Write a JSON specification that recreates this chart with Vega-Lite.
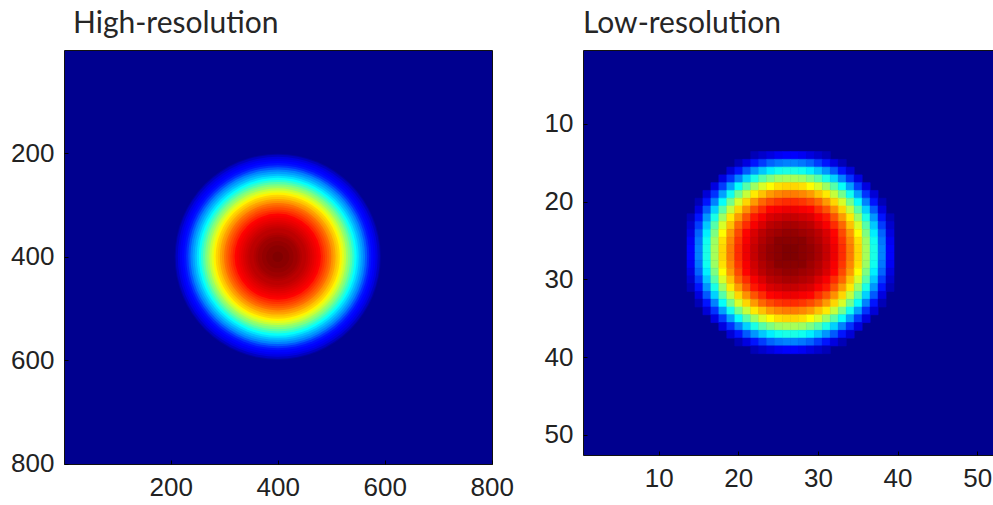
{
  "$schema": "https://vega.github.io/schema/vega-lite/v6.json",
  "padding": {"left": 10, "top": 8, "right": 0, "bottom": 0},
  "background": "white",
  "config": {
    "view": {"fill": "#00008f", "stroke": "#111111", "strokeWidth": 1},
    "axis": {"labelFont": "Liberation Sans", "labelFontSize": 26, "labelColor": "#222222", "grid": false, "domain": false, "tickColor": "#000000", "tickSize": -4, "tickWidth": 1, "labelPadding": 14, "labelFlush": false},
    "title": {"font": "Lato", "fontSize": 30, "fontWeight": "normal", "color": "#262626", "anchor": "start", "frame": "group", "offset": 11.5}
  },
  "bounds": "flush",
  "spacing": 91,
  "datasets": {
    "hi": [
      {"r":196,"v":0.02},{"r":194,"v":0.05},{"r":190,"v":0.08},{"r":186,"v":0.1},{"r":182,"v":0.115},{"r":178,"v":0.13},{"r":174,"v":0.16},{"r":170,"v":0.2},{"r":166,"v":0.24},{"r":162,"v":0.27},{"r":158,"v":0.3},{"r":154,"v":0.335},{"r":150,"v":0.37},{"r":146,"v":0.41},{"r":142,"v":0.45},{"r":138,"v":0.49},{"r":134,"v":0.52},{"r":130,"v":0.56},{"r":126,"v":0.59},{"r":122,"v":0.63},{"r":118,"v":0.66},{"r":114,"v":0.68},{"r":110,"v":0.71},{"r":106,"v":0.73},{"r":102,"v":0.76},{"r":98,"v":0.78},{"r":94,"v":0.8},{"r":90,"v":0.82},{"r":86,"v":0.84},{"r":82,"v":0.87},{"r":78,"v":0.88},{"r":74,"v":0.89},{"r":70,"v":0.9},{"r":66,"v":0.91},{"r":62,"v":0.92},{"r":58,"v":0.93},{"r":54,"v":0.94},{"r":50,"v":0.94},{"r":46,"v":0.95},{"r":42,"v":0.96},{"r":38,"v":0.97},{"r":34,"v":0.97},{"r":30,"v":0.98},{"r":26,"v":0.98},{"r":22,"v":0.99},{"r":18,"v":0.99},{"r":14,"v":0.99},{"r":10,"v":1},{"r":6,"v":1},{"r":2,"v":1}
    ],
    "lo": [
      {"x":21.5,"y":13.5,"v":0.04},{"x":22.5,"y":13.5,"v":0.06},{"x":23.5,"y":13.5,"v":0.08},{"x":24.5,"y":13.5,"v":0.1},{"x":25.5,"y":13.5,"v":0.11},{"x":26.5,"y":13.5,"v":0.11},{"x":27.5,"y":13.5,"v":0.1},{"x":28.5,"y":13.5,"v":0.08},{"x":29.5,"y":13.5,"v":0.06},{"x":30.5,"y":13.5,"v":0.04},
      {"x":19.5,"y":14.5,"v":0.04},{"x":20.5,"y":14.5,"v":0.08},{"x":21.5,"y":14.5,"v":0.13},{"x":22.5,"y":14.5,"v":0.17},{"x":23.5,"y":14.5,"v":0.21},{"x":24.5,"y":14.5,"v":0.23},{"x":25.5,"y":14.5,"v":0.24},{"x":26.5,"y":14.5,"v":0.24},{"x":27.5,"y":14.5,"v":0.23},{"x":28.5,"y":14.5,"v":0.21},{"x":29.5,"y":14.5,"v":0.17},{"x":30.5,"y":14.5,"v":0.13},{"x":31.5,"y":14.5,"v":0.08},{"x":32.5,"y":14.5,"v":0.04},
      {"x":18.5,"y":15.5,"v":0.07},{"x":19.5,"y":15.5,"v":0.13},{"x":20.5,"y":15.5,"v":0.2},{"x":21.5,"y":15.5,"v":0.26},{"x":22.5,"y":15.5,"v":0.31},{"x":23.5,"y":15.5,"v":0.35},{"x":24.5,"y":15.5,"v":0.38},{"x":25.5,"y":15.5,"v":0.39},{"x":26.5,"y":15.5,"v":0.39},{"x":27.5,"y":15.5,"v":0.38},{"x":28.5,"y":15.5,"v":0.35},{"x":29.5,"y":15.5,"v":0.31},{"x":30.5,"y":15.5,"v":0.26},{"x":31.5,"y":15.5,"v":0.2},{"x":32.5,"y":15.5,"v":0.13},{"x":33.5,"y":15.5,"v":0.07},
      {"x":17.5,"y":16.5,"v":0.08},{"x":18.5,"y":16.5,"v":0.16},{"x":19.5,"y":16.5,"v":0.24},{"x":20.5,"y":16.5,"v":0.32},{"x":21.5,"y":16.5,"v":0.39},{"x":22.5,"y":16.5,"v":0.45},{"x":23.5,"y":16.5,"v":0.49},{"x":24.5,"y":16.5,"v":0.52},{"x":25.5,"y":16.5,"v":0.53},{"x":26.5,"y":16.5,"v":0.53},{"x":27.5,"y":16.5,"v":0.52},{"x":28.5,"y":16.5,"v":0.49},{"x":29.5,"y":16.5,"v":0.45},{"x":30.5,"y":16.5,"v":0.39},{"x":31.5,"y":16.5,"v":0.32},{"x":32.5,"y":16.5,"v":0.24},{"x":33.5,"y":16.5,"v":0.16},{"x":34.5,"y":16.5,"v":0.08},
      {"x":16.5,"y":17.5,"v":0.08},{"x":17.5,"y":17.5,"v":0.17},{"x":18.5,"y":17.5,"v":0.27},{"x":19.5,"y":17.5,"v":0.37},{"x":20.5,"y":17.5,"v":0.45},{"x":21.5,"y":17.5,"v":0.52},{"x":22.5,"y":17.5,"v":0.58},{"x":23.5,"y":17.5,"v":0.62},{"x":24.5,"y":17.5,"v":0.65},{"x":25.5,"y":17.5,"v":0.66},{"x":26.5,"y":17.5,"v":0.66},{"x":27.5,"y":17.5,"v":0.65},{"x":28.5,"y":17.5,"v":0.62},{"x":29.5,"y":17.5,"v":0.58},{"x":30.5,"y":17.5,"v":0.52},{"x":31.5,"y":17.5,"v":0.45},{"x":32.5,"y":17.5,"v":0.37},{"x":33.5,"y":17.5,"v":0.27},{"x":34.5,"y":17.5,"v":0.17},{"x":35.5,"y":17.5,"v":0.08},
      {"x":15.5,"y":18.5,"v":0.07},{"x":16.5,"y":18.5,"v":0.16},{"x":17.5,"y":18.5,"v":0.27},{"x":18.5,"y":18.5,"v":0.38},{"x":19.5,"y":18.5,"v":0.48},{"x":20.5,"y":18.5,"v":0.56},{"x":21.5,"y":18.5,"v":0.64},{"x":22.5,"y":18.5,"v":0.68},{"x":23.5,"y":18.5,"v":0.72},{"x":24.5,"y":18.5,"v":0.74},{"x":25.5,"y":18.5,"v":0.75},{"x":26.5,"y":18.5,"v":0.75},{"x":27.5,"y":18.5,"v":0.74},{"x":28.5,"y":18.5,"v":0.72},{"x":29.5,"y":18.5,"v":0.68},{"x":30.5,"y":18.5,"v":0.64},{"x":31.5,"y":18.5,"v":0.56},{"x":32.5,"y":18.5,"v":0.48},{"x":33.5,"y":18.5,"v":0.38},{"x":34.5,"y":18.5,"v":0.27},{"x":35.5,"y":18.5,"v":0.16},{"x":36.5,"y":18.5,"v":0.07},
      {"x":14.5,"y":19.5,"v":0.04},{"x":15.5,"y":19.5,"v":0.13},{"x":16.5,"y":19.5,"v":0.24},{"x":17.5,"y":19.5,"v":0.37},{"x":18.5,"y":19.5,"v":0.48},{"x":19.5,"y":19.5,"v":0.58},{"x":20.5,"y":19.5,"v":0.66},{"x":21.5,"y":19.5,"v":0.72},{"x":22.5,"y":19.5,"v":0.77},{"x":23.5,"y":19.5,"v":0.8},{"x":24.5,"y":19.5,"v":0.82},{"x":25.5,"y":19.5,"v":0.83},{"x":26.5,"y":19.5,"v":0.83},{"x":27.5,"y":19.5,"v":0.82},{"x":28.5,"y":19.5,"v":0.8},{"x":29.5,"y":19.5,"v":0.77},{"x":30.5,"y":19.5,"v":0.72},{"x":31.5,"y":19.5,"v":0.66},{"x":32.5,"y":19.5,"v":0.58},{"x":33.5,"y":19.5,"v":0.48},{"x":34.5,"y":19.5,"v":0.37},{"x":35.5,"y":19.5,"v":0.24},{"x":36.5,"y":19.5,"v":0.13},{"x":37.5,"y":19.5,"v":0.04},
      {"x":14.5,"y":20.5,"v":0.08},{"x":15.5,"y":20.5,"v":0.2},{"x":16.5,"y":20.5,"v":0.32},{"x":17.5,"y":20.5,"v":0.45},{"x":18.5,"y":20.5,"v":0.56},{"x":19.5,"y":20.5,"v":0.66},{"x":20.5,"y":20.5,"v":0.73},{"x":21.5,"y":20.5,"v":0.79},{"x":22.5,"y":20.5,"v":0.83},{"x":23.5,"y":20.5,"v":0.87},{"x":24.5,"y":20.5,"v":0.88},{"x":25.5,"y":20.5,"v":0.89},{"x":26.5,"y":20.5,"v":0.89},{"x":27.5,"y":20.5,"v":0.88},{"x":28.5,"y":20.5,"v":0.87},{"x":29.5,"y":20.5,"v":0.83},{"x":30.5,"y":20.5,"v":0.79},{"x":31.5,"y":20.5,"v":0.73},{"x":32.5,"y":20.5,"v":0.66},{"x":33.5,"y":20.5,"v":0.56},{"x":34.5,"y":20.5,"v":0.45},{"x":35.5,"y":20.5,"v":0.32},{"x":36.5,"y":20.5,"v":0.2},{"x":37.5,"y":20.5,"v":0.08},
      {"x":13.5,"y":21.5,"v":0.04},{"x":14.5,"y":21.5,"v":0.13},{"x":15.5,"y":21.5,"v":0.26},{"x":16.5,"y":21.5,"v":0.39},{"x":17.5,"y":21.5,"v":0.52},{"x":18.5,"y":21.5,"v":0.64},{"x":19.5,"y":21.5,"v":0.72},{"x":20.5,"y":21.5,"v":0.79},{"x":21.5,"y":21.5,"v":0.85},{"x":22.5,"y":21.5,"v":0.88},{"x":23.5,"y":21.5,"v":0.91},{"x":24.5,"y":21.5,"v":0.92},{"x":25.5,"y":21.5,"v":0.93},{"x":26.5,"y":21.5,"v":0.93},{"x":27.5,"y":21.5,"v":0.92},{"x":28.5,"y":21.5,"v":0.91},{"x":29.5,"y":21.5,"v":0.88},{"x":30.5,"y":21.5,"v":0.85},{"x":31.5,"y":21.5,"v":0.79},{"x":32.5,"y":21.5,"v":0.72},{"x":33.5,"y":21.5,"v":0.64},{"x":34.5,"y":21.5,"v":0.52},{"x":35.5,"y":21.5,"v":0.39},{"x":36.5,"y":21.5,"v":0.26},{"x":37.5,"y":21.5,"v":0.13},{"x":38.5,"y":21.5,"v":0.04},
      {"x":13.5,"y":22.5,"v":0.06},{"x":14.5,"y":22.5,"v":0.17},{"x":15.5,"y":22.5,"v":0.31},{"x":16.5,"y":22.5,"v":0.45},{"x":17.5,"y":22.5,"v":0.58},{"x":18.5,"y":22.5,"v":0.68},{"x":19.5,"y":22.5,"v":0.77},{"x":20.5,"y":22.5,"v":0.83},{"x":21.5,"y":22.5,"v":0.88},{"x":22.5,"y":22.5,"v":0.91},{"x":23.5,"y":22.5,"v":0.94},{"x":24.5,"y":22.5,"v":0.95},{"x":25.5,"y":22.5,"v":0.96},{"x":26.5,"y":22.5,"v":0.96},{"x":27.5,"y":22.5,"v":0.95},{"x":28.5,"y":22.5,"v":0.94},{"x":29.5,"y":22.5,"v":0.91},{"x":30.5,"y":22.5,"v":0.88},{"x":31.5,"y":22.5,"v":0.83},{"x":32.5,"y":22.5,"v":0.77},{"x":33.5,"y":22.5,"v":0.68},{"x":34.5,"y":22.5,"v":0.58},{"x":35.5,"y":22.5,"v":0.45},{"x":36.5,"y":22.5,"v":0.31},{"x":37.5,"y":22.5,"v":0.17},{"x":38.5,"y":22.5,"v":0.06},
      {"x":13.5,"y":23.5,"v":0.08},{"x":14.5,"y":23.5,"v":0.21},{"x":15.5,"y":23.5,"v":0.35},{"x":16.5,"y":23.5,"v":0.49},{"x":17.5,"y":23.5,"v":0.62},{"x":18.5,"y":23.5,"v":0.72},{"x":19.5,"y":23.5,"v":0.8},{"x":20.5,"y":23.5,"v":0.87},{"x":21.5,"y":23.5,"v":0.91},{"x":22.5,"y":23.5,"v":0.94},{"x":23.5,"y":23.5,"v":0.96},{"x":24.5,"y":23.5,"v":0.97},{"x":25.5,"y":23.5,"v":0.98},{"x":26.5,"y":23.5,"v":0.98},{"x":27.5,"y":23.5,"v":0.97},{"x":28.5,"y":23.5,"v":0.96},{"x":29.5,"y":23.5,"v":0.94},{"x":30.5,"y":23.5,"v":0.91},{"x":31.5,"y":23.5,"v":0.87},{"x":32.5,"y":23.5,"v":0.8},{"x":33.5,"y":23.5,"v":0.72},{"x":34.5,"y":23.5,"v":0.62},{"x":35.5,"y":23.5,"v":0.49},{"x":36.5,"y":23.5,"v":0.35},{"x":37.5,"y":23.5,"v":0.21},{"x":38.5,"y":23.5,"v":0.08},
      {"x":13.5,"y":24.5,"v":0.1},{"x":14.5,"y":24.5,"v":0.23},{"x":15.5,"y":24.5,"v":0.38},{"x":16.5,"y":24.5,"v":0.52},{"x":17.5,"y":24.5,"v":0.65},{"x":18.5,"y":24.5,"v":0.74},{"x":19.5,"y":24.5,"v":0.82},{"x":20.5,"y":24.5,"v":0.88},{"x":21.5,"y":24.5,"v":0.92},{"x":22.5,"y":24.5,"v":0.95},{"x":23.5,"y":24.5,"v":0.97},{"x":24.5,"y":24.5,"v":0.99},{"x":25.5,"y":24.5,"v":0.99},{"x":26.5,"y":24.5,"v":0.99},{"x":27.5,"y":24.5,"v":0.99},{"x":28.5,"y":24.5,"v":0.97},{"x":29.5,"y":24.5,"v":0.95},{"x":30.5,"y":24.5,"v":0.92},{"x":31.5,"y":24.5,"v":0.88},{"x":32.5,"y":24.5,"v":0.82},{"x":33.5,"y":24.5,"v":0.74},{"x":34.5,"y":24.5,"v":0.65},{"x":35.5,"y":24.5,"v":0.52},{"x":36.5,"y":24.5,"v":0.38},{"x":37.5,"y":24.5,"v":0.23},{"x":38.5,"y":24.5,"v":0.1},
      {"x":13.5,"y":25.5,"v":0.11},{"x":14.5,"y":25.5,"v":0.24},{"x":15.5,"y":25.5,"v":0.39},{"x":16.5,"y":25.5,"v":0.53},{"x":17.5,"y":25.5,"v":0.66},{"x":18.5,"y":25.5,"v":0.75},{"x":19.5,"y":25.5,"v":0.83},{"x":20.5,"y":25.5,"v":0.89},{"x":21.5,"y":25.5,"v":0.93},{"x":22.5,"y":25.5,"v":0.96},{"x":23.5,"y":25.5,"v":0.98},{"x":24.5,"y":25.5,"v":0.99},{"x":25.5,"y":25.5,"v":1},{"x":26.5,"y":25.5,"v":1},{"x":27.5,"y":25.5,"v":0.99},{"x":28.5,"y":25.5,"v":0.98},{"x":29.5,"y":25.5,"v":0.96},{"x":30.5,"y":25.5,"v":0.93},{"x":31.5,"y":25.5,"v":0.89},{"x":32.5,"y":25.5,"v":0.83},{"x":33.5,"y":25.5,"v":0.75},{"x":34.5,"y":25.5,"v":0.66},{"x":35.5,"y":25.5,"v":0.53},{"x":36.5,"y":25.5,"v":0.39},{"x":37.5,"y":25.5,"v":0.24},{"x":38.5,"y":25.5,"v":0.11},
      {"x":13.5,"y":26.5,"v":0.11},{"x":14.5,"y":26.5,"v":0.24},{"x":15.5,"y":26.5,"v":0.39},{"x":16.5,"y":26.5,"v":0.53},{"x":17.5,"y":26.5,"v":0.66},{"x":18.5,"y":26.5,"v":0.75},{"x":19.5,"y":26.5,"v":0.83},{"x":20.5,"y":26.5,"v":0.89},{"x":21.5,"y":26.5,"v":0.93},{"x":22.5,"y":26.5,"v":0.96},{"x":23.5,"y":26.5,"v":0.98},{"x":24.5,"y":26.5,"v":0.99},{"x":25.5,"y":26.5,"v":1},{"x":26.5,"y":26.5,"v":1},{"x":27.5,"y":26.5,"v":0.99},{"x":28.5,"y":26.5,"v":0.98},{"x":29.5,"y":26.5,"v":0.96},{"x":30.5,"y":26.5,"v":0.93},{"x":31.5,"y":26.5,"v":0.89},{"x":32.5,"y":26.5,"v":0.83},{"x":33.5,"y":26.5,"v":0.75},{"x":34.5,"y":26.5,"v":0.66},{"x":35.5,"y":26.5,"v":0.53},{"x":36.5,"y":26.5,"v":0.39},{"x":37.5,"y":26.5,"v":0.24},{"x":38.5,"y":26.5,"v":0.11},
      {"x":13.5,"y":27.5,"v":0.1},{"x":14.5,"y":27.5,"v":0.23},{"x":15.5,"y":27.5,"v":0.38},{"x":16.5,"y":27.5,"v":0.52},{"x":17.5,"y":27.5,"v":0.65},{"x":18.5,"y":27.5,"v":0.74},{"x":19.5,"y":27.5,"v":0.82},{"x":20.5,"y":27.5,"v":0.88},{"x":21.5,"y":27.5,"v":0.92},{"x":22.5,"y":27.5,"v":0.95},{"x":23.5,"y":27.5,"v":0.97},{"x":24.5,"y":27.5,"v":0.99},{"x":25.5,"y":27.5,"v":0.99},{"x":26.5,"y":27.5,"v":0.99},{"x":27.5,"y":27.5,"v":0.99},{"x":28.5,"y":27.5,"v":0.97},{"x":29.5,"y":27.5,"v":0.95},{"x":30.5,"y":27.5,"v":0.92},{"x":31.5,"y":27.5,"v":0.88},{"x":32.5,"y":27.5,"v":0.82},{"x":33.5,"y":27.5,"v":0.74},{"x":34.5,"y":27.5,"v":0.65},{"x":35.5,"y":27.5,"v":0.52},{"x":36.5,"y":27.5,"v":0.38},{"x":37.5,"y":27.5,"v":0.23},{"x":38.5,"y":27.5,"v":0.1},
      {"x":13.5,"y":28.5,"v":0.08},{"x":14.5,"y":28.5,"v":0.21},{"x":15.5,"y":28.5,"v":0.35},{"x":16.5,"y":28.5,"v":0.49},{"x":17.5,"y":28.5,"v":0.62},{"x":18.5,"y":28.5,"v":0.72},{"x":19.5,"y":28.5,"v":0.8},{"x":20.5,"y":28.5,"v":0.87},{"x":21.5,"y":28.5,"v":0.91},{"x":22.5,"y":28.5,"v":0.94},{"x":23.5,"y":28.5,"v":0.96},{"x":24.5,"y":28.5,"v":0.97},{"x":25.5,"y":28.5,"v":0.98},{"x":26.5,"y":28.5,"v":0.98},{"x":27.5,"y":28.5,"v":0.97},{"x":28.5,"y":28.5,"v":0.96},{"x":29.5,"y":28.5,"v":0.94},{"x":30.5,"y":28.5,"v":0.91},{"x":31.5,"y":28.5,"v":0.87},{"x":32.5,"y":28.5,"v":0.8},{"x":33.5,"y":28.5,"v":0.72},{"x":34.5,"y":28.5,"v":0.62},{"x":35.5,"y":28.5,"v":0.49},{"x":36.5,"y":28.5,"v":0.35},{"x":37.5,"y":28.5,"v":0.21},{"x":38.5,"y":28.5,"v":0.08},
      {"x":13.5,"y":29.5,"v":0.06},{"x":14.5,"y":29.5,"v":0.17},{"x":15.5,"y":29.5,"v":0.31},{"x":16.5,"y":29.5,"v":0.45},{"x":17.5,"y":29.5,"v":0.58},{"x":18.5,"y":29.5,"v":0.68},{"x":19.5,"y":29.5,"v":0.77},{"x":20.5,"y":29.5,"v":0.83},{"x":21.5,"y":29.5,"v":0.88},{"x":22.5,"y":29.5,"v":0.91},{"x":23.5,"y":29.5,"v":0.94},{"x":24.5,"y":29.5,"v":0.95},{"x":25.5,"y":29.5,"v":0.96},{"x":26.5,"y":29.5,"v":0.96},{"x":27.5,"y":29.5,"v":0.95},{"x":28.5,"y":29.5,"v":0.94},{"x":29.5,"y":29.5,"v":0.91},{"x":30.5,"y":29.5,"v":0.88},{"x":31.5,"y":29.5,"v":0.83},{"x":32.5,"y":29.5,"v":0.77},{"x":33.5,"y":29.5,"v":0.68},{"x":34.5,"y":29.5,"v":0.58},{"x":35.5,"y":29.5,"v":0.45},{"x":36.5,"y":29.5,"v":0.31},{"x":37.5,"y":29.5,"v":0.17},{"x":38.5,"y":29.5,"v":0.06},
      {"x":13.5,"y":30.5,"v":0.04},{"x":14.5,"y":30.5,"v":0.13},{"x":15.5,"y":30.5,"v":0.26},{"x":16.5,"y":30.5,"v":0.39},{"x":17.5,"y":30.5,"v":0.52},{"x":18.5,"y":30.5,"v":0.64},{"x":19.5,"y":30.5,"v":0.72},{"x":20.5,"y":30.5,"v":0.79},{"x":21.5,"y":30.5,"v":0.85},{"x":22.5,"y":30.5,"v":0.88},{"x":23.5,"y":30.5,"v":0.91},{"x":24.5,"y":30.5,"v":0.92},{"x":25.5,"y":30.5,"v":0.93},{"x":26.5,"y":30.5,"v":0.93},{"x":27.5,"y":30.5,"v":0.92},{"x":28.5,"y":30.5,"v":0.91},{"x":29.5,"y":30.5,"v":0.88},{"x":30.5,"y":30.5,"v":0.85},{"x":31.5,"y":30.5,"v":0.79},{"x":32.5,"y":30.5,"v":0.72},{"x":33.5,"y":30.5,"v":0.64},{"x":34.5,"y":30.5,"v":0.52},{"x":35.5,"y":30.5,"v":0.39},{"x":36.5,"y":30.5,"v":0.26},{"x":37.5,"y":30.5,"v":0.13},{"x":38.5,"y":30.5,"v":0.04},
      {"x":14.5,"y":31.5,"v":0.08},{"x":15.5,"y":31.5,"v":0.2},{"x":16.5,"y":31.5,"v":0.32},{"x":17.5,"y":31.5,"v":0.45},{"x":18.5,"y":31.5,"v":0.56},{"x":19.5,"y":31.5,"v":0.66},{"x":20.5,"y":31.5,"v":0.73},{"x":21.5,"y":31.5,"v":0.79},{"x":22.5,"y":31.5,"v":0.83},{"x":23.5,"y":31.5,"v":0.87},{"x":24.5,"y":31.5,"v":0.88},{"x":25.5,"y":31.5,"v":0.89},{"x":26.5,"y":31.5,"v":0.89},{"x":27.5,"y":31.5,"v":0.88},{"x":28.5,"y":31.5,"v":0.87},{"x":29.5,"y":31.5,"v":0.83},{"x":30.5,"y":31.5,"v":0.79},{"x":31.5,"y":31.5,"v":0.73},{"x":32.5,"y":31.5,"v":0.66},{"x":33.5,"y":31.5,"v":0.56},{"x":34.5,"y":31.5,"v":0.45},{"x":35.5,"y":31.5,"v":0.32},{"x":36.5,"y":31.5,"v":0.2},{"x":37.5,"y":31.5,"v":0.08},
      {"x":14.5,"y":32.5,"v":0.04},{"x":15.5,"y":32.5,"v":0.13},{"x":16.5,"y":32.5,"v":0.24},{"x":17.5,"y":32.5,"v":0.37},{"x":18.5,"y":32.5,"v":0.48},{"x":19.5,"y":32.5,"v":0.58},{"x":20.5,"y":32.5,"v":0.66},{"x":21.5,"y":32.5,"v":0.72},{"x":22.5,"y":32.5,"v":0.77},{"x":23.5,"y":32.5,"v":0.8},{"x":24.5,"y":32.5,"v":0.82},{"x":25.5,"y":32.5,"v":0.83},{"x":26.5,"y":32.5,"v":0.83},{"x":27.5,"y":32.5,"v":0.82},{"x":28.5,"y":32.5,"v":0.8},{"x":29.5,"y":32.5,"v":0.77},{"x":30.5,"y":32.5,"v":0.72},{"x":31.5,"y":32.5,"v":0.66},{"x":32.5,"y":32.5,"v":0.58},{"x":33.5,"y":32.5,"v":0.48},{"x":34.5,"y":32.5,"v":0.37},{"x":35.5,"y":32.5,"v":0.24},{"x":36.5,"y":32.5,"v":0.13},{"x":37.5,"y":32.5,"v":0.04},
      {"x":15.5,"y":33.5,"v":0.07},{"x":16.5,"y":33.5,"v":0.16},{"x":17.5,"y":33.5,"v":0.27},{"x":18.5,"y":33.5,"v":0.38},{"x":19.5,"y":33.5,"v":0.48},{"x":20.5,"y":33.5,"v":0.56},{"x":21.5,"y":33.5,"v":0.64},{"x":22.5,"y":33.5,"v":0.68},{"x":23.5,"y":33.5,"v":0.72},{"x":24.5,"y":33.5,"v":0.74},{"x":25.5,"y":33.5,"v":0.75},{"x":26.5,"y":33.5,"v":0.75},{"x":27.5,"y":33.5,"v":0.74},{"x":28.5,"y":33.5,"v":0.72},{"x":29.5,"y":33.5,"v":0.68},{"x":30.5,"y":33.5,"v":0.64},{"x":31.5,"y":33.5,"v":0.56},{"x":32.5,"y":33.5,"v":0.48},{"x":33.5,"y":33.5,"v":0.38},{"x":34.5,"y":33.5,"v":0.27},{"x":35.5,"y":33.5,"v":0.16},{"x":36.5,"y":33.5,"v":0.07},
      {"x":16.5,"y":34.5,"v":0.08},{"x":17.5,"y":34.5,"v":0.17},{"x":18.5,"y":34.5,"v":0.27},{"x":19.5,"y":34.5,"v":0.37},{"x":20.5,"y":34.5,"v":0.45},{"x":21.5,"y":34.5,"v":0.52},{"x":22.5,"y":34.5,"v":0.58},{"x":23.5,"y":34.5,"v":0.62},{"x":24.5,"y":34.5,"v":0.65},{"x":25.5,"y":34.5,"v":0.66},{"x":26.5,"y":34.5,"v":0.66},{"x":27.5,"y":34.5,"v":0.65},{"x":28.5,"y":34.5,"v":0.62},{"x":29.5,"y":34.5,"v":0.58},{"x":30.5,"y":34.5,"v":0.52},{"x":31.5,"y":34.5,"v":0.45},{"x":32.5,"y":34.5,"v":0.37},{"x":33.5,"y":34.5,"v":0.27},{"x":34.5,"y":34.5,"v":0.17},{"x":35.5,"y":34.5,"v":0.08},
      {"x":17.5,"y":35.5,"v":0.08},{"x":18.5,"y":35.5,"v":0.16},{"x":19.5,"y":35.5,"v":0.24},{"x":20.5,"y":35.5,"v":0.32},{"x":21.5,"y":35.5,"v":0.39},{"x":22.5,"y":35.5,"v":0.45},{"x":23.5,"y":35.5,"v":0.49},{"x":24.5,"y":35.5,"v":0.52},{"x":25.5,"y":35.5,"v":0.53},{"x":26.5,"y":35.5,"v":0.53},{"x":27.5,"y":35.5,"v":0.52},{"x":28.5,"y":35.5,"v":0.49},{"x":29.5,"y":35.5,"v":0.45},{"x":30.5,"y":35.5,"v":0.39},{"x":31.5,"y":35.5,"v":0.32},{"x":32.5,"y":35.5,"v":0.24},{"x":33.5,"y":35.5,"v":0.16},{"x":34.5,"y":35.5,"v":0.08},
      {"x":18.5,"y":36.5,"v":0.07},{"x":19.5,"y":36.5,"v":0.13},{"x":20.5,"y":36.5,"v":0.2},{"x":21.5,"y":36.5,"v":0.26},{"x":22.5,"y":36.5,"v":0.31},{"x":23.5,"y":36.5,"v":0.35},{"x":24.5,"y":36.5,"v":0.38},{"x":25.5,"y":36.5,"v":0.39},{"x":26.5,"y":36.5,"v":0.39},{"x":27.5,"y":36.5,"v":0.38},{"x":28.5,"y":36.5,"v":0.35},{"x":29.5,"y":36.5,"v":0.31},{"x":30.5,"y":36.5,"v":0.26},{"x":31.5,"y":36.5,"v":0.2},{"x":32.5,"y":36.5,"v":0.13},{"x":33.5,"y":36.5,"v":0.07},
      {"x":19.5,"y":37.5,"v":0.04},{"x":20.5,"y":37.5,"v":0.08},{"x":21.5,"y":37.5,"v":0.13},{"x":22.5,"y":37.5,"v":0.17},{"x":23.5,"y":37.5,"v":0.21},{"x":24.5,"y":37.5,"v":0.23},{"x":25.5,"y":37.5,"v":0.24},{"x":26.5,"y":37.5,"v":0.24},{"x":27.5,"y":37.5,"v":0.23},{"x":28.5,"y":37.5,"v":0.21},{"x":29.5,"y":37.5,"v":0.17},{"x":30.5,"y":37.5,"v":0.13},{"x":31.5,"y":37.5,"v":0.08},{"x":32.5,"y":37.5,"v":0.04},
      {"x":21.5,"y":38.5,"v":0.04},{"x":22.5,"y":38.5,"v":0.06},{"x":23.5,"y":38.5,"v":0.08},{"x":24.5,"y":38.5,"v":0.1},{"x":25.5,"y":38.5,"v":0.11},{"x":26.5,"y":38.5,"v":0.11},{"x":27.5,"y":38.5,"v":0.1},{"x":28.5,"y":38.5,"v":0.08},{"x":29.5,"y":38.5,"v":0.06},{"x":30.5,"y":38.5,"v":0.04}
    ]
  },
  "hconcat": [
    {
      "title": {"text": "High-resolution", "dx": 9},
      "width": 428,
      "height": 414,
      "data": {"name": "hi"},
      "mark": {"type": "circle", "opacity": 1, "strokeWidth": 0},
      "encoding": {
        "x": {"datum": 400, "type": "quantitative", "scale": {"domain": [0.5, 800.5], "nice": false, "zero": false}, "axis": {"values": [200, 400, 600, 800], "title": null}},
        "y": {"datum": 400, "type": "quantitative", "scale": {"domain": [0.5, 800.5], "reverse": true, "nice": false, "zero": false}, "axis": {"values": [200, 400, 600, 800], "title": null}},
        "size": {"field": "r", "type": "quantitative", "scale": {"type": "pow", "exponent": 2, "domain": [0, 200], "range": [0, 44268]}, "legend": null},
        "color": {"field": "v", "type": "quantitative", "scale": {"domain": [0, 0.111, 0.365, 0.619, 0.873, 1], "range": ["#00008f", "#0000ff", "#00ffff", "#ffff00", "#ff0000", "#800000"], "interpolate": "rgb"}, "legend": null},
        "order": {"field": "r", "sort": "descending"}
      }
    },
    {
      "title": {"text": "Low-resolution"},
      "width": 422,
      "height": 405,
      "data": {"name": "lo"},
      "mark": {"type": "rect", "strokeWidth": 0.6},
      "encoding": {
        "x": {"field": "x", "type": "quantitative", "bin": {"binned": true, "step": 1}, "scale": {"domain": [0.5, 53.5], "nice": false, "zero": false}, "axis": {"values": [10, 20, 30, 40, 50], "title": null, "format": "d"}},
        "y": {"field": "y", "type": "quantitative", "bin": {"binned": true, "step": 1}, "scale": {"domain": [0.5, 52.6], "reverse": true, "nice": false, "zero": false}, "axis": {"values": [10, 20, 30, 40, 50], "title": null, "format": "d"}},
        "color": {"field": "v", "type": "quantitative", "scale": {"domain": [0, 0.111, 0.365, 0.619, 0.873, 1], "range": ["#00008f", "#0000ff", "#00ffff", "#ffff00", "#ff0000", "#800000"], "interpolate": "rgb"}, "legend": null},
        "stroke": {"field": "v", "type": "quantitative", "scale": {"domain": [0, 0.111, 0.365, 0.619, 0.873, 1], "range": ["#00008f", "#0000ff", "#00ffff", "#ffff00", "#ff0000", "#800000"], "interpolate": "rgb"}, "legend": null}
      }
    }
  ]
}
